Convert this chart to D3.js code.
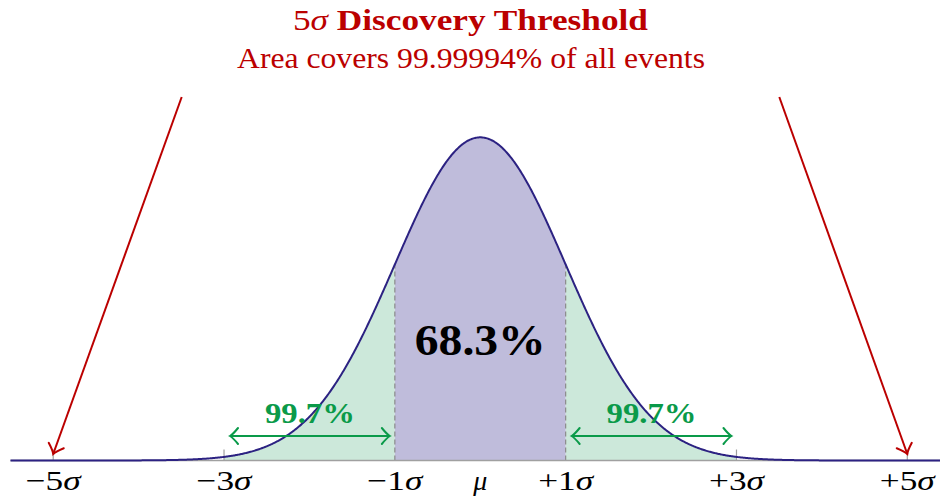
<!DOCTYPE html>
<html>
<head>
<meta charset="utf-8">
<script src="https://cdn.jsdelivr.net/npm/d3@7"></script>
<style>
  html, body { margin: 0; padding: 0; background: #fff; }
  svg { display: block; }
  text { font-family: "Liberation Serif", "DejaVu Serif", serif; }
</style>
</head>
<body>
<svg id="chart" width="940" height="498"></svg>
<script>
// Distribution parameters and annotations (in units of sigma)
const mu = 0;
const sigma = 1;
const xDomain = [-5.5, 5.5];
const tickPositions = [-5, -3, -1, 0, 1, 3, 5];
const tickPrefixes = ["−5", "−3", "−1", "", "+1", "+3", "+5"];
const tickSymbols = ["σ", "σ", "σ", "μ", "σ", "σ", "σ"];
const minorTickPositions = [-5, -3, 3, 5];
const innerBand = [-1, 1];
const outerBand = [-3, 3];
const innerLabel = "68.3%";
const outerLabel = "99.7%";
const discoveryBand = [-5, 5];
const titleLine1 = ["5", "σ", " Discovery Threshold"];
const titleLine2 = "Area covers 99.99994% of all events";

const W = 940, H = 498;
const svg = d3.select("#chart");

const x = d3.scaleLinear().domain(xDomain).range([10.5, 950]);
const y = d3.scaleLinear().domain([0, 0.4]).range([460.5, 136.5]);

const pdf = z => Math.exp(-0.5 * ((z - mu) / sigma) ** 2) / (sigma * Math.sqrt(2 * Math.PI));
const curvePts = d3.range(xDomain[0], xDomain[1] + 1e-9, 0.01).map(z => [z, pdf(z)]);
const bandPts = (a, b) => curvePts.filter(p => p[0] >= a - 1e-9 && p[0] <= b + 1e-9);

const area = d3.area().x(d => x(d[0])).y0(y(0)).y1(d => y(d[1]));
const line = d3.line().x(d => x(d[0])).y(d => y(d[1]));

const g = svg.append("g");

// shaded regions
g.append("path").datum(bandPts(outerBand[0], innerBand[0])).attr("d", area).attr("fill", "#cce8da");
g.append("path").datum(bandPts(innerBand[1], outerBand[1])).attr("d", area).attr("fill", "#cce8da");
g.append("path").datum(bandPts(innerBand[0], innerBand[1])).attr("d", area).attr("fill", "#bfbcdb");

// dashed boundaries at ±1σ
innerBand.forEach(v => {
  g.append("line")
    .attr("x1", x(v)).attr("x2", x(v))
    .attr("y1", y(0)).attr("y2", y(pdf(v)))
    .attr("stroke", "#8a8a8a").attr("stroke-width", 1.2)
    .attr("stroke-dasharray", "5,3");
});

// baseline axis and ticks
g.append("line")
  .attr("x1", x(xDomain[0])).attr("x2", W)
  .attr("y1", y(0)).attr("y2", y(0))
  .attr("stroke", "#a0a0a0").attr("stroke-width", 1.5);
minorTickPositions.forEach(v => {
  g.append("line")
    .attr("x1", x(v)).attr("x2", x(v))
    .attr("y1", y(0)).attr("y2", y(0) - 11)
    .attr("stroke", "#a0a0a0").attr("stroke-width", 1.2);
});

// density curve
g.append("path").datum(curvePts).attr("d", line)
  .attr("fill", "none").attr("stroke", "#2c2282").attr("stroke-width", 2);

// curved arrow head, tip at (0,0) pointing toward +x
function headPath(len, half) {
  return `M${-len},${-half} Q${-len * 0.35},${-half * 0.2} 0,0 Q${-len * 0.35},${half * 0.2} ${-len},${half}`;
}
function arrowHead(parent, tx, ty, angle, color, len, half, sw) {
  parent.append("path")
    .attr("d", headPath(len, half))
    .attr("transform", `translate(${tx},${ty}) rotate(${angle})`)
    .attr("fill", "none").attr("stroke", color)
    .attr("stroke-width", sw).attr("stroke-linecap", "round");
}

// two-headed green span arrows
const green = "#0a9a49";
const arrowY = 436;
[[outerBand[0], innerBand[0]], [innerBand[1], outerBand[1]]].forEach(([a, b]) => {
  const x1 = x(a) + 6, x2 = x(b) - 5;
  g.append("line").attr("x1", x1).attr("x2", x2).attr("y1", arrowY).attr("y2", arrowY)
    .attr("stroke", green).attr("stroke-width", 2);
  arrowHead(g, x1, arrowY, 180, green, 8, 8, 2);
  arrowHead(g, x2, arrowY, 0, green, 8, 8, 2);
  g.append("text")
    .attr("x", (x1 + x2) / 2).attr("y", 423)
    .attr("text-anchor", "middle")
    .attr("font-size", 30).attr("font-weight", "bold")
    .attr("fill", green)
    .attr("textLength", 90).attr("lengthAdjust", "spacingAndGlyphs")
    .text(outerLabel);
});

// central percentage
g.append("text")
  .attr("x", x(mu)).attr("y", 355)
  .attr("text-anchor", "middle")
  .attr("font-size", 45).attr("font-weight", "bold")
  .attr("fill", "#000")
  .attr("textLength", 131).attr("lengthAdjust", "spacingAndGlyphs")
  .text(innerLabel);

// red arrows to ±5σ
const red = "#bb0000";
const arrowTopY = 97;
discoveryBand.forEach(v => {
  const tx = x(v), ty = 454;
  const sx = tx + (v < 0 ? 128.5 : -128);
  g.append("line").attr("x1", sx).attr("y1", arrowTopY).attr("x2", tx).attr("y2", ty)
    .attr("stroke", red).attr("stroke-width", 2);
  const ang = Math.atan2(ty - arrowTopY, tx - sx) * 180 / Math.PI;
  arrowHead(g, tx, ty, ang, red, 9, 8, 2);
});

// tick labels
tickPositions.forEach((v, i) => {
  const t = g.append("text")
    .attr("x", x(v)).attr("y", 490)
    .attr("text-anchor", "middle")
    .attr("font-size", 28).attr("fill", "#000");
  if (tickPrefixes[i]) {
    t.attr("textLength", 55).attr("lengthAdjust", "spacingAndGlyphs");
    t.append("tspan").text(tickPrefixes[i]);
  }
  t.append("tspan").attr("font-style", "italic").text(tickSymbols[i]);
});

// title
const t1 = svg.append("text")
  .attr("x", 470.5).attr("y", 30)
  .attr("text-anchor", "middle")
  .attr("font-size", 29).attr("fill", red)
  .attr("textLength", 355).attr("lengthAdjust", "spacingAndGlyphs");
t1.append("tspan").text(titleLine1[0]);
t1.append("tspan").attr("font-style", "italic").text(titleLine1[1]);
t1.append("tspan").attr("font-weight", "bold").text(titleLine1[2]);

svg.append("text")
  .attr("x", 471).attr("y", 68)
  .attr("text-anchor", "middle")
  .attr("font-size", 29).attr("fill", red)
  .attr("textLength", 468).attr("lengthAdjust", "spacingAndGlyphs")
  .text(titleLine2);
</script>
</body>
</html>
